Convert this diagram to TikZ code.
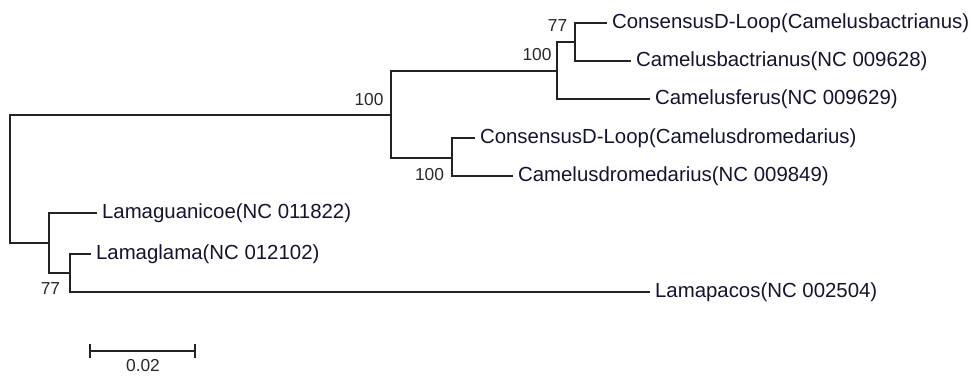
\documentclass[tikz,border=0pt]{standalone}
\usepackage{fontspec}
\setmainfont{Liberation Sans}
\usetikzlibrary{positioning}
\definecolor{taxoncol}{RGB}{20,20,48}
\definecolor{bootcol}{RGB}{40,40,40}
\definecolor{branchcol}{RGB}{35,35,35}
\tikzset{
	taxon/.style={anchor=west, inner xsep=3.6pt, inner ysep=0pt, text=taxoncol, font=\fontsize{15.3}{18}\selectfont},
	boot/.style={inner sep=0pt, text=bootcol, font=\fontsize{13}{15}\selectfont},
	branch/.style={draw=branchcol, line width=1.1pt}
}
\begin{document}
	\begin{tikzpicture}[x=0.75pt, y=-0.75pt]
		\useasboundingbox (0,0) rectangle (974,376);
		% internal nodes of the tree
		\coordinate (root) at (10,179);
		\coordinate (camelus) at (391,115);
		\coordinate (bactria) at (557,71);
		\coordinate (bactcons) at (575,42);
		\coordinate (dromed) at (452,158);
		\coordinate (lama) at (49,243);
		\coordinate (lamaglpa) at (70,273);
		
		% leaves
		\node (cdlbac) [taxon] at (607,23) {ConsensusD-Loop(Camelusbactrianus)};
		\node (cbac) [taxon] at (631,61) {Camelusbactrianus(NC 009628)};
		\node (cfer) [taxon] at (650,99) {Camelusferus(NC 009629)};
		\node (cdldro) [taxon] at (475,138) {ConsensusD-Loop(Camelusdromedarius)};
		\node (cdro) [taxon] at (513,176) {Camelusdromedarius(NC 009849)};
		\node (lgua) [taxon] at (97,213) {Lamaguanicoe(NC 011822)};
		\node (lgla) [taxon] at (91,254) {Lamaglama(NC 012102)};
		\node (lpac) [taxon] at (650,292) {Lamapacos(NC 002504)};
		
		% branches
		\draw[branch] (root) |- (camelus);
		\draw[branch] (root) |- (lama);
		\draw[branch] (camelus) |- (bactria);
		\draw[branch] (camelus) |- (dromed);
		\draw[branch] (bactria) |- (bactcons);
		\draw[branch] (bactria) |- (cfer.west);
		\draw[branch] (bactcons) |- (cdlbac.west);
		\draw[branch] (bactcons) |- (cbac.west);
		\draw[branch] (dromed) |- (cdldro.west);
		\draw[branch] (dromed) |- (cdro.west);
		\draw[branch] (lama) |- (lgua.west);
		\draw[branch] (lama) |- (lamaglpa);
		\draw[branch] (lamaglpa) |- (lgla.west);
		\draw[branch] (lamaglpa) |- (lpac.west);
		
		% bootstrap values
		\node (bcamelus) [boot] at (369,99.5) {100};
		\node (bbactria) [boot] at (537,55) {100};
		\node (bbactcons) [boot] at (557.5,25.5) {77};
		\node (bdromed) [boot] at (429.5,174.5) {100};
		\node (blama) [boot] at (50.5,288.5) {77};
		
		% scale bar
		\coordinate (barl) at (90,351);
		\coordinate (barr) at (195,351);
		\draw[branch] (barl) -- (barr);
		\draw[branch] ([yshift=5.3pt]barl) -- ([yshift=-5.3pt]barl);
		\draw[branch] ([yshift=5.3pt]barr) -- ([yshift=-5.3pt]barr);
		\node (barlabel) [boot] at (143,366) {0.02};
	\end{tikzpicture}
\end{document}
